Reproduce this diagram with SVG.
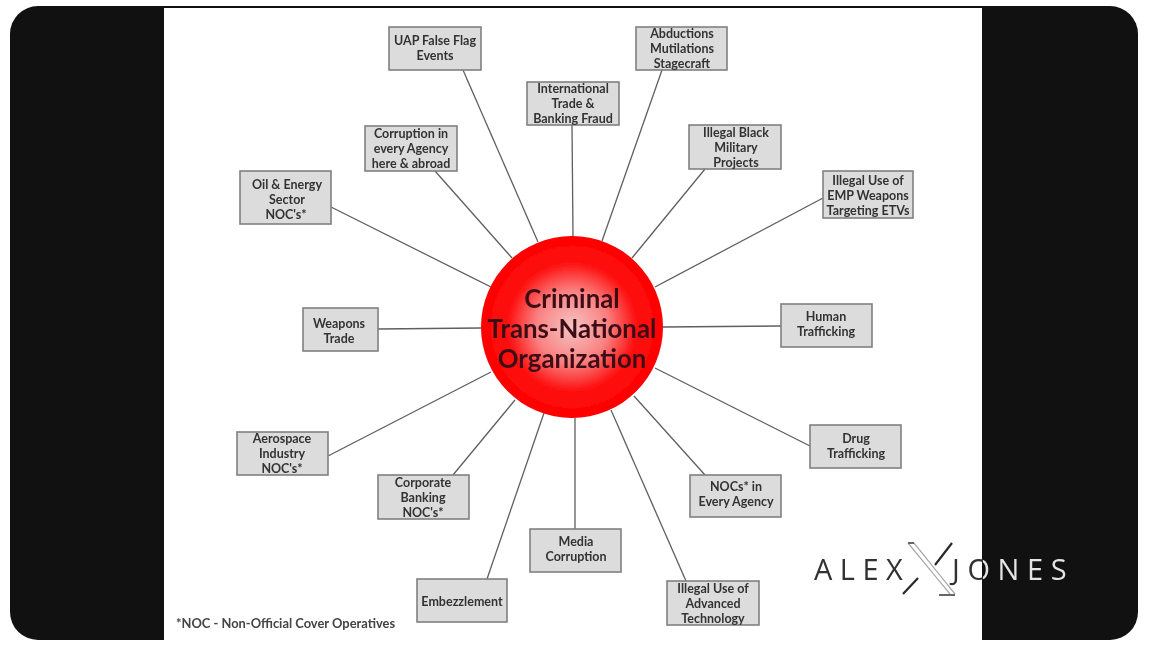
<svg xmlns="http://www.w3.org/2000/svg" width="1154" height="656" viewBox="0 0 1154 656">
<style>
.box{fill:#dcdcdc;stroke:#808080;stroke-width:1.6}
.lbl{font-family:Lato,"Liberation Sans",sans-serif;font-size:12.5px;font-weight:700;fill:#333333;text-anchor:middle;transform:translateY(0.7px)}
.conn line{stroke:#5f5f5f;stroke-width:1.3}
.hub{font-family:Lato,"Liberation Sans",sans-serif;font-size:25.8px;font-weight:700;fill:#3d0f18;text-anchor:middle}
.logo{font-family:"Open Sans","Liberation Sans",sans-serif;font-size:29px;font-weight:400;fill:url(#logoFill)}
.xm{stroke:#2a2a2a;stroke-width:2.2;fill:none}
.xt{stroke:#a8a8a8;stroke-width:1.2;fill:none}
.xd{stroke:#666666;stroke-width:1.8;fill:none}
</style>
<defs>
<radialGradient id="ball" cx="50%" cy="50%" r="50%">
<stop offset="0" stop-color="#f6c4c4"/>
<stop offset="0.4" stop-color="#fa8080"/>
<stop offset="0.7" stop-color="#fe1212"/>
<stop offset="1" stop-color="#fe0000"/>
</radialGradient>
<linearGradient id="logoFill" gradientUnits="userSpaceOnUse" x1="800" y1="0" x2="1080" y2="0">
<stop offset="0.6538" stop-color="#333333"/>
<stop offset="0.6538" stop-color="#e4e4e4"/>
</linearGradient>
<filter id="soft" x="-5%" y="-5%" width="110%" height="110%"><feGaussianBlur stdDeviation="0.6"/></filter>
</defs>
<rect width="1154" height="656" fill="#ffffff"/>
<rect id="frame" x="10" y="6" width="1128" height="634" rx="28" fill="#111111"/>
<rect id="slide" x="164" y="8" width="818" height="632" fill="#ffffff"/>
<g filter="url(#soft)">
<g id="connectors" class="conn">
<line x1="463" y1="70" x2="538" y2="242"/>
<line x1="662" y1="70" x2="602" y2="241"/>
<line x1="572" y1="125" x2="573" y2="237"/>
<line x1="435" y1="171" x2="512" y2="258"/>
<line x1="705" y1="169" x2="632" y2="258"/>
<line x1="823" y1="198" x2="655" y2="287"/>
<line x1="331" y1="207" x2="491" y2="287"/>
<line x1="378" y1="329" x2="481" y2="328"/>
<line x1="781" y1="326" x2="663" y2="327"/>
<line x1="328" y1="456" x2="491" y2="372"/>
<line x1="810" y1="446" x2="655" y2="368"/>
<line x1="453" y1="475" x2="515" y2="400"/>
<line x1="705" y1="475" x2="634" y2="396"/>
<line x1="575" y1="529" x2="575" y2="418"/>
<line x1="487" y1="579" x2="544" y2="413"/>
<line x1="686" y1="581" x2="611" y2="410"/>
</g>
<g id="n-uap"><rect class="box" x="389" y="27" width="92" height="43"/><text class="lbl" x="435" y="44">UAP False Flag</text><text class="lbl" x="435" y="59">Events</text></g>
<g id="n-abductions"><rect class="box" x="636" y="27" width="91" height="43"/><text class="lbl" x="682" y="37">Abductions</text><text class="lbl" x="682" y="52">Mutilations</text><text class="lbl" x="682" y="67">Stagecraft</text></g>
<g id="n-trade"><rect class="box" x="527" y="82" width="92" height="43"/><text class="lbl" x="573" y="92">International</text><text class="lbl" x="573" y="107">Trade &amp;</text><text class="lbl" x="573" y="122">Banking Fraud</text></g>
<g id="n-corruption"><rect class="box" x="365" y="126" width="92" height="45"/><text class="lbl" x="411" y="137">Corruption in</text><text class="lbl" x="411" y="152">every Agency</text><text class="lbl" x="411" y="167">here &amp; abroad</text></g>
<g id="n-black"><rect class="box" x="689" y="125" width="92" height="44"/><text class="lbl" x="736" y="136">Illegal Black</text><text class="lbl" x="736" y="151">Military</text><text class="lbl" x="736" y="166">Projects</text></g>
<g id="n-emp"><rect class="box" x="823" y="171" width="90" height="47"/><text class="lbl" x="868" y="184">Illegal Use of</text><text class="lbl" x="868" y="199">EMP Weapons</text><text class="lbl" x="868" y="214">Targeting ETVs</text></g>
<g id="n-oil"><rect class="box" x="240" y="171" width="91" height="53"/><text class="lbl" x="287" y="188">Oil &amp; Energy</text><text class="lbl" x="287" y="203">Sector</text><text class="lbl" x="286" y="218">NOC's*</text></g>
<g id="n-weapons"><rect class="box" x="303" y="308" width="75" height="43"/><text class="lbl" x="339" y="327">Weapons</text><text class="lbl" x="339" y="342">Trade</text></g>
<g id="n-human"><rect class="box" x="781" y="304" width="91" height="43"/><text class="lbl" x="826" y="320">Human</text><text class="lbl" x="826" y="335">Trafficking</text></g>
<g id="n-aerospace"><rect class="box" x="237" y="432" width="91" height="43"/><text class="lbl" x="282" y="442">Aerospace</text><text class="lbl" x="282" y="457">Industry</text><text class="lbl" x="282" y="472">NOC's*</text></g>
<g id="n-drug"><rect class="box" x="810" y="425" width="91" height="43"/><text class="lbl" x="856" y="442">Drug</text><text class="lbl" x="856" y="457">Trafficking</text></g>
<g id="n-banking"><rect class="box" x="378" y="475" width="91" height="44"/><text class="lbl" x="423" y="486">Corporate</text><text class="lbl" x="423" y="501">Banking</text><text class="lbl" x="423" y="516">NOC's*</text></g>
<g id="n-nocs"><rect class="box" x="690" y="475" width="91" height="42"/><text class="lbl" x="736" y="490">NOCs* in</text><text class="lbl" x="736" y="505">Every Agency</text></g>
<g id="n-media"><rect class="box" x="530" y="529" width="91" height="43"/><text class="lbl" x="576" y="545">Media</text><text class="lbl" x="576" y="560">Corruption</text></g>
<g id="n-embezzlement"><rect class="box" x="417" y="579" width="90" height="43"/><text class="lbl" x="462" y="605">Embezzlement</text></g>
<g id="n-advanced"><rect class="box" x="667" y="581" width="92" height="44"/><text class="lbl" x="713" y="592">Illegal Use of</text><text class="lbl" x="713" y="607">Advanced</text><text class="lbl" x="713" y="622">Technology</text></g>
<g id="n-hub"><circle cx="572" cy="327" r="91" fill="url(#ball)"/><text class="hub" x="572" y="308">Criminal</text><text class="hub" x="572" y="338">Trans-National</text><text class="hub" x="572" y="368">Organization</text></g>
<text id="footnote" x="176" y="628" font-family="Lato,'Liberation Sans',sans-serif" font-size="12.9" font-weight="700" fill="#444444">*NOC - Non-Official Cover Operatives</text>
<g id="logo">
<text class="logo" x="814" y="580" letter-spacing="7.5">ALEX</text>
<text class="logo" x="952" y="580" letter-spacing="7.6">JONES</text>
<path class="xm" d="M903 594 L918 578 M935 565 L952 543"/>
<path class="xt" d="M908 543 L950 594 M914 543 L955 594"/>
<path class="xd" d="M908 543 H914 M939 595 H955"/>
</g>
</g>
</svg>
